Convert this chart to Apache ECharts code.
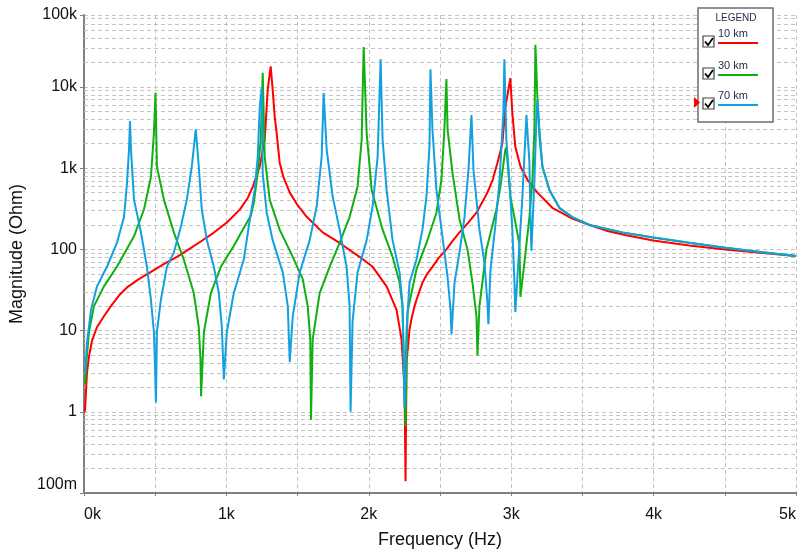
<!DOCTYPE html>
<html>
<head>
<meta charset="utf-8">
<script src="https://cdn.jsdelivr.net/npm/echarts@6/dist/echarts.min.js"></script>
<style>
  html, body { margin: 0; padding: 0; background: #fff; }
  #chart { width: 799px; height: 554px; }
</style>
</head>
<body>
<div id="chart"></div>
<script>
// [频率 Hz, 幅值 Ohm]
const curve10km = [
    [7, 1.0], [14, 1.8], [21, 3.0], [35, 4.8], [56, 7.5], [91, 11], [140, 15], [189, 20],
    [245, 27], [302, 34], [385, 43], [470, 53], [560, 66], [652, 81], [735, 100], [820, 125],
    [910, 160], [1003, 214], [1094, 309], [1150, 430], [1185, 590], [1234, 1050], [1269, 2240],
    [1290, 9200], [1311, 18000], [1325, 9200], [1340, 4200], [1353, 2700], [1374, 1170],
    [1400, 780], [1445, 500], [1500, 350], [1564, 252], [1676, 162], [1795, 120], [1935, 81],
    [2027, 61], [2125, 35], [2195, 18], [2230, 7.8], [2251, 1.9], [2258, 0.14], [2265, 4.1],
    [2286, 10.3], [2300, 14], [2321, 20], [2345, 27], [2377, 39], [2410, 50], [2447, 61],
    [2490, 78], [2545, 100], [2590, 128], [2637, 162], [2700, 215], [2756, 283], [2833, 500],
    [2870, 720], [2903, 1160], [2938, 2000], [2959, 5600], [2994, 12800], [3008, 4800],
    [3029, 1830], [3065, 1050], [3114, 720], [3184, 500], [3289, 325], [3429, 240], [3550, 200],
    [3668, 170], [3800, 150], [3997, 129], [4250, 112], [4502, 100], [4750, 91], [5000, 83]
];
const curve30km = [
    [7, 2.2], [21, 5], [35, 9.6], [70, 20], [140, 35], [231, 61], [351, 145], [421, 310],
    [470, 780], [491, 2700], [502, 8500], [512, 1050], [561, 410], [631, 162], [701, 75],
    [771, 29], [806, 11], [818, 4.5], [822, 1.55], [842, 9.6], [891, 29], [961, 61], [1052, 110],
    [1094, 150], [1171, 260], [1192, 370], [1220, 870], [1241, 2240], [1255, 15000], [1269, 1380],
    [1304, 410], [1374, 175], [1466, 81], [1536, 43], [1571, 20], [1589, 7.8], [1594, 0.8],
    [1606, 7.8], [1655, 29], [1725, 61], [1795, 120], [1865, 250], [1921, 590], [1950, 2240],
    [1957, 9200], [1964, 31000], [1985, 2700], [2020, 540], [2097, 175], [2167, 81], [2216, 39],
    [2237, 20], [2251, 1.9], [2258, 0.66], [2265, 4.1], [2272, 17], [2335, 57], [2405, 120],
    [2475, 283], [2510, 720], [2531, 3000], [2545, 12500], [2553, 3000], [2588, 870], [2637, 234],
    [2693, 100], [2728, 39], [2756, 15], [2763, 4.9], [2777, 20], [2826, 100], [2896, 310],
    [2924, 590], [2959, 1700], [2966, 1800], [2994, 450], [3029, 215], [3058, 115], [3065, 26],
    [3072, 26], [3093, 69], [3128, 250], [3149, 720], [3163, 3000], [3170, 33000], [3184, 7500],
    [3198, 2500], [3219, 1050], [3268, 540], [3338, 325], [3429, 250], [3548, 200], [3780, 162],
    [3997, 140], [4250, 121], [4502, 105], [4750, 93], [5000, 83]
];
const curve70km = [
    [7, 3], [21, 7], [49, 18], [91, 35], [161, 61], [231, 120], [281, 250], [302, 660],
    [316, 1700], [323, 3800], [330, 1700], [351, 410], [400, 162], [442, 61], [470, 24],
    [491, 9.6], [498, 4.0], [505, 1.3], [512, 9.6], [540, 24], [582, 61], [631, 92], [680, 190],
    [722, 410], [757, 1050], [785, 3000], [806, 1050], [827, 310], [863, 130], [912, 61],
    [947, 29], [968, 11], [982, 2.5], [1003, 9.6], [1052, 29], [1122, 75], [1164, 230],
    [1199, 540], [1220, 1380], [1234, 5600], [1248, 9800], [1255, 870], [1283, 283], [1325, 130],
    [1396, 52], [1431, 20], [1445, 4.1], [1466, 15], [1515, 52], [1585, 130], [1634, 340],
    [1669, 1380], [1683, 8400], [1704, 1700], [1746, 450], [1795, 175], [1844, 61], [1865, 20],
    [1872, 1.0], [1886, 13], [1921, 52], [1985, 130], [2027, 340], [2062, 1380], [2083, 22000],
    [2097, 2240], [2125, 540], [2167, 130], [2216, 52], [2237, 20], [2251, 1.1], [2265, 10],
    [2286, 39], [2335, 75], [2377, 175], [2405, 450], [2426, 1830], [2433, 16500], [2447, 3000],
    [2475, 540], [2517, 145], [2553, 46], [2574, 18], [2581, 9], [2602, 39], [2637, 92],
    [2672, 250], [2700, 960], [2721, 4500], [2735, 960], [2777, 175], [2812, 69], [2833, 22],
    [2840, 12], [2854, 55], [2889, 200], [2917, 660], [2945, 4800], [2952, 22000], [2966, 2240],
    [2987, 720], [3008, 175], [3022, 43], [3029, 17], [3050, 69], [3079, 450], [3107, 4500],
    [3128, 1160], [3135, 250], [3142, 96], [3163, 720], [3177, 4000], [3184, 7000], [3198, 3000],
    [3219, 1050], [3268, 540], [3338, 325], [3429, 250], [3548, 200], [3780, 162], [3997, 140],
    [4250, 121], [4502, 105], [4750, 93], [5000, 83]
];

const seriesNames = ['10 km', '30 km', '70 km'];
const seriesColors = ['#ff0000', '#10b010', '#12a0e0'];
const xTickLabels = ['0k', '1k', '2k', '3k', '4k', '5k'];
const yTickLabels = ['100m', '1', '10', '100', '1k', '10k', '100k'];

// 次网格线 2..9 × 10^n
const minorGrid = [];
for (let e = -1; e <= 4; e++) {
    for (let m = 2; m <= 9; m++) {
        const v = m * Math.pow(10, e);
        if (v < 77000) minorGrid.push({ yAxis: v });
    }
}

const font = 'Liberation Sans, Arial, sans-serif';
const gridLine = { color: '#c4c4c4', type: [4, 3], width: 1 };

const chart = echarts.init(document.getElementById('chart'));

// 图例框
const legendGraphics = [{
    type: 'rect',
    shape: { x: 698, y: 8, width: 75, height: 114 },
    style: { fill: '#fff', stroke: '#6e6e6e', lineWidth: 1.5 },
    z: 100
}, {
    type: 'text',
    x: 736, y: 18,
    style: { text: 'LEGEND', fill: '#2a2a4a', font: '10px ' + font, align: 'center', verticalAlign: 'middle' },
    z: 101
}, {
    type: 'polygon',
    shape: { points: [[694, 97], [700, 102.5], [694, 108]] },
    style: { fill: '#ff0000' },
    z: 101
}];
[34, 66, 96].forEach(function(y0, i) {
    legendGraphics.push({
        type: 'text', x: 718, y: y0,
        style: { text: seriesNames[i], fill: '#2a2a4a', font: '11px ' + font, verticalAlign: 'middle' },
        z: 101
    }, {
        type: 'line',
        shape: { x1: 718, y1: y0 + 9, x2: 758, y2: y0 + 9 },
        style: { stroke: seriesColors[i], lineWidth: 2 },
        z: 101
    }, {
        type: 'rect',
        shape: { x: 703, y: y0 + 2, width: 11, height: 11 },
        style: { fill: '#fff', stroke: '#444', lineWidth: 1.2 },
        z: 101
    }, {
        type: 'polyline',
        shape: { points: [[705, y0 + 7.5], [708, y0 + 11], [713, y0 + 4]] },
        style: { stroke: '#000', lineWidth: 1.8, fill: null },
        z: 102
    });
});

chart.setOption({
    animation: false,
    backgroundColor: '#fff',
    grid: { left: 84, right: 2, top: 15, bottom: 59 },
    xAxis: {
        type: 'value',
        min: 0,
        max: 5000,
        interval: 500,
        name: 'Frequency (Hz)',
        nameLocation: 'middle',
        nameGap: 38,
        nameTextStyle: { fontFamily: font, fontSize: 18, color: '#111' },
        axisLine: { lineStyle: { color: '#808080', width: 2 } },
        axisTick: { show: true, length: 3, lineStyle: { color: '#808080' } },
        axisLabel: {
            fontFamily: font, fontSize: 16, color: '#111', margin: 14,
            alignMinLabel: 'left', alignMaxLabel: 'right',
            formatter: function(v) {
                return v % 1000 === 0 ? xTickLabels[v / 1000] : '';
            }
        },
        splitLine: { show: true, lineStyle: gridLine }
    },
    yAxis: {
        type: 'log',
        logBase: 10,
        min: 0.1,
        max: 77000,
        name: 'Magnitude (Ohm)',
        nameLocation: 'middle',
        nameGap: 49,
        nameTextStyle: { fontFamily: font, fontSize: 18, color: '#111' },
        axisLine: { show: true, lineStyle: { color: '#808080', width: 2 } },
        axisTick: { show: true, length: 4, lineStyle: { color: '#808080' } },
        axisLabel: {
            fontFamily: font, fontSize: 16, color: '#111', margin: 7,
            verticalAlignMinLabel: 'bottom',
            formatter: function(v) {
                if (v > 50000) return yTickLabels[6];
                return yTickLabels[Math.round(Math.log10(v)) + 1];
            }
        },
        splitLine: { show: true, lineStyle: gridLine }
    },
    graphic: legendGraphics,
    series: [{
        type: 'line',
        data: [],
        silent: true,
        markLine: {
            silent: true,
            z: 1,
            symbol: 'none',
            label: { show: false },
            lineStyle: gridLine,
            data: minorGrid
        }
    }].concat([curve10km, curve30km, curve70km].map(function(d, i) {
        return {
            name: seriesNames[i],
            type: 'line',
            data: d,
            showSymbol: false,
            symbol: 'none',
            smooth: false,
            z: 3 + i,
            lineStyle: { color: seriesColors[i], width: 2 },
            itemStyle: { color: seriesColors[i] }
        };
    }))
});

window.addEventListener('resize', function() {
    chart.resize();
});
</script>
</body>
</html>
